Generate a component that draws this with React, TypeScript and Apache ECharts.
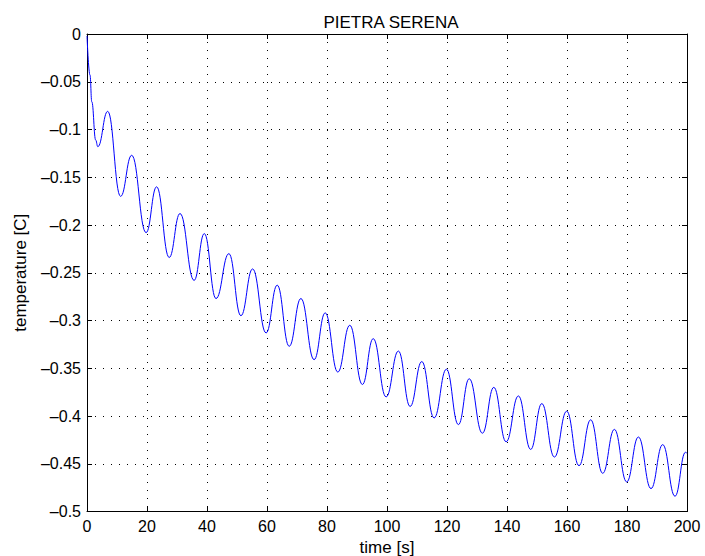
import React, { useEffect, useRef } from "react";
import * as echarts from "echarts";

const title = "PIETRA SERENA";
const xName = "time [s]";
const yName = "temperature [C]";

const times = [
  0, 1.0, 1.6, 2.9, 3.6, 6.9, 11.2, 14.9, 19.7, 23.2, 27.4, 31.0, 35.7, 39.1,
  43.0, 47.3, 51.3, 55.2, 59.7, 63.4, 67.4, 71.3, 75.7, 79.4, 83.6, 87.6, 91.8,
  95.4, 99.7, 103.8, 107.7, 111.6, 115.7, 119.8, 123.8, 127.4, 131.8, 135.6,
  139.7, 143.8, 147.9, 151.6, 155.8, 159.9, 164.0, 167.9, 171.9, 175.8, 179.9,
  183.8, 188.0, 191.9, 196.0, 199.5, 200,
];
const temps = [
  -0.002, -0.043, -0.071, -0.111, -0.118, -0.081, -0.17, -0.127, -0.208, -0.16,
  -0.234, -0.188, -0.258, -0.209, -0.277, -0.23, -0.295, -0.246, -0.313, -0.263,
  -0.327, -0.277, -0.341, -0.292, -0.354, -0.305, -0.367, -0.319, -0.38, -0.332,
  -0.39, -0.343, -0.402, -0.351, -0.409, -0.361, -0.418, -0.37, -0.427, -0.379,
  -0.435, -0.387, -0.443, -0.395, -0.452, -0.404, -0.46, -0.414, -0.469, -0.422,
  -0.476, -0.43, -0.484, -0.438, -0.439,
];

const FONT = "'Liberation Sans', Arial, Helvetica, sans-serif";

export default function App() {
  const ref = useRef<HTMLDivElement>(null);
  useEffect(() => {
    const chart = echarts.init(ref.current!, null, { renderer: "svg" });
    const data = times.map((t, i) => [t, temps[i]]);
    const tick = { show: true, inside: true, length: 5, lineStyle: { color: "#000", width: 1 } };
    const grid = { show: true, lineStyle: { color: "#000", width: 1, type: [1, 7] as any } };
    const fmtY = (v: number) => (v === 0 ? "0" : String(v).replace("-", "\u2013"));
    chart.setOption({
      animation: false,
      backgroundColor: "#fff",
      textStyle: { fontFamily: FONT },
      title: {
        text: title,
        left: 386,
        textAlign: "center",
        top: 9,
        textStyle: { fontFamily: FONT, fontSize: 17, fontWeight: "normal", color: "#000" },
      },
      grid: {
        left: 87, right: 18, top: 34, bottom: 44.5,
        containLabel: false, outerBoundsMode: "none",
      },
      xAxis: [
        {
          type: "value", min: 0, max: 200, interval: 20, position: "bottom",
          name: xName, nameLocation: "middle", nameGap: 21,
          nameTextStyle: { fontFamily: FONT, fontSize: 17, color: "#000" },
          axisLine: { show: true, onZero: false, lineStyle: { color: "#000", width: 1 } },
          axisTick: tick,
          axisLabel: { fontFamily: FONT, fontSize: 16, color: "#000", margin: 7 },
          splitLine: grid,
        },
        {
          type: "value", min: 0, max: 200, interval: 20, position: "top",
          axisLine: { show: true, onZero: false, lineStyle: { color: "#000", width: 1 } },
          axisTick: tick, axisLabel: { show: false }, splitLine: { show: false },
        },
      ],
      yAxis: [
        {
          type: "value", min: -0.5, max: 0, interval: 0.05, position: "left",
          name: yName, nameLocation: "middle", nameGap: 58, nameRotate: 90,
          nameTextStyle: { fontFamily: FONT, fontSize: 17, color: "#000" },
          axisLine: { show: true, onZero: false, lineStyle: { color: "#000", width: 1 } },
          axisTick: tick,
          axisLabel: { fontFamily: FONT, fontSize: 16, color: "#000", margin: 6, formatter: fmtY },
          splitLine: grid,
        },
        {
          type: "value", min: -0.5, max: 0, interval: 0.05, position: "right",
          axisLine: { show: true, onZero: false, lineStyle: { color: "#000", width: 1 } },
          axisTick: tick, axisLabel: { show: false }, splitLine: { show: false },
        },
      ],
      series: [
        {
          type: "line",
          data,
          xAxisIndex: 0,
          yAxisIndex: 0,
          showSymbol: false,
          smooth: 0.45,
          smoothMonotone: "x",
          lineStyle: { color: "#0000ff", width: 1 },
          clip: true,
        },
      ],
    });
    return () => chart.dispose();
  }, []);
  return (
    <div
      ref={ref}
      style={{ position: "fixed", left: 0, top: 0, width: 705, height: 556, background: "#fff" }}
    />
  );
}
